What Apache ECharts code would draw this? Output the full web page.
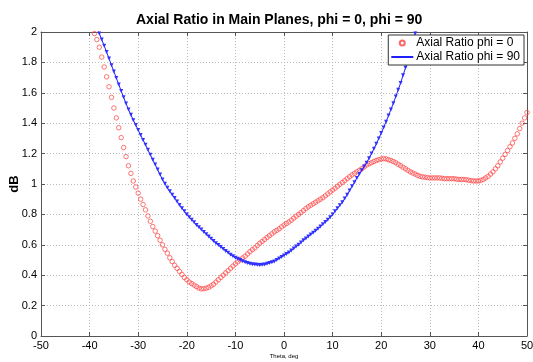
<!DOCTYPE html>
<html>
<head>
<meta charset="utf-8">
<script src="https://cdn.jsdelivr.net/npm/echarts@6/dist/echarts.min.js"></script>
<style>
  html, body { margin: 0; padding: 0; background: #fff; }
  #chart { width: 533px; height: 362px; }
</style>
</head>
<body>
<div id="chart"></div>
<script>
// theta step for both traces (deg)
const thetaStep = 0.5;

// phi = 0, sampled from theta = -39 to 50
const redStart = -39;
const redValues = [
  1.99, 1.95, 1.90, 1.835, 1.77, 1.705, 1.64, 1.57, 1.50, 1.435,
  1.37, 1.305, 1.24, 1.18, 1.12, 1.07, 1.02, 0.98, 0.94, 0.90,
  0.865, 0.83, 0.79, 0.755, 0.72, 0.69, 0.66, 0.63, 0.60, 0.57,
  0.545, 0.515, 0.49, 0.465, 0.445, 0.425, 0.405, 0.385, 0.37, 0.355,
  0.345, 0.335, 0.325, 0.315, 0.31, 0.311, 0.315, 0.32, 0.33, 0.34,
  0.355, 0.37, 0.385, 0.40, 0.415, 0.43, 0.445, 0.46, 0.475, 0.488,
  0.50, 0.513, 0.525, 0.54, 0.555, 0.568, 0.58, 0.595, 0.61, 0.622,
  0.635, 0.648, 0.66, 0.672, 0.685, 0.695, 0.705, 0.718, 0.73, 0.74,
  0.75, 0.762, 0.775, 0.788, 0.80, 0.812, 0.825, 0.838, 0.85, 0.86,
  0.87, 0.88, 0.89, 0.90, 0.91, 0.922, 0.935, 0.948, 0.96, 0.972,
  0.985, 0.998, 1.01, 1.022, 1.035, 1.048, 1.06, 1.07, 1.08, 1.09,
  1.10, 1.112, 1.125, 1.133, 1.14, 1.148, 1.155, 1.16, 1.165, 1.167,
  1.165, 1.16, 1.155, 1.148, 1.14, 1.13, 1.12, 1.11, 1.10, 1.09,
  1.08, 1.072, 1.065, 1.057, 1.05, 1.047, 1.045, 1.042, 1.04, 1.04,
  1.04, 1.04, 1.04, 1.038, 1.035, 1.035, 1.035, 1.035, 1.035, 1.032,
  1.03, 1.03, 1.03, 1.028, 1.025, 1.022, 1.02, 1.02, 1.02, 1.024,
  1.03, 1.04, 1.05, 1.065, 1.08, 1.10, 1.12, 1.145, 1.17, 1.195,
  1.22, 1.245, 1.27, 1.30, 1.33, 1.365, 1.40, 1.435, 1.47
];

// phi = 90, sampled from theta = -38.5 to 28
const blueStart = -38.5;
const blueValues = [
  2.03, 1.99, 1.95, 1.91, 1.868, 1.825, 1.782, 1.74, 1.698, 1.655,
  1.612, 1.57, 1.53, 1.49, 1.455, 1.42, 1.388, 1.355, 1.322, 1.29,
  1.258, 1.225, 1.192, 1.16, 1.128, 1.095, 1.062, 1.03, 1.002, 0.975,
  0.952, 0.93, 0.908, 0.885, 0.862, 0.84, 0.82, 0.80, 0.782, 0.765,
  0.748, 0.73, 0.715, 0.70, 0.685, 0.67, 0.655, 0.64, 0.625, 0.61,
  0.598, 0.585, 0.572, 0.56, 0.548, 0.535, 0.525, 0.515, 0.508, 0.50,
  0.492, 0.485, 0.48, 0.475, 0.472, 0.47, 0.468, 0.467, 0.468, 0.47,
  0.475, 0.48, 0.485, 0.49, 0.50, 0.51, 0.52, 0.53, 0.54, 0.55,
  0.562, 0.575, 0.588, 0.60, 0.615, 0.63, 0.642, 0.655, 0.668, 0.68,
  0.692, 0.705, 0.72, 0.735, 0.75, 0.765, 0.782, 0.80, 0.82, 0.84,
  0.86, 0.88, 0.905, 0.93, 0.958, 0.985, 1.012, 1.04, 1.065, 1.09,
  1.115, 1.14, 1.17, 1.20, 1.232, 1.265, 1.30, 1.335, 1.372, 1.41,
  1.45, 1.49, 1.532, 1.575, 1.62, 1.665, 1.715, 1.765, 1.82, 1.875,
  1.932, 1.99, 2.05, 2.11
];

const seriesNames = ['Axial Ratio phi = 0', 'Axial Ratio phi = 90'];

const toPairs = (start, vals) => vals.map((v, i) => [start + i * thetaStep, v]);

const chart = echarts.init(document.getElementById('chart'));
const font = 'Liberation Sans, Arial, sans-serif';

// top / right axes only close the box
const boxAxis = {
  axisLine: { show: true, onZero: false, lineStyle: { color: '#555', width: 1 } },
  axisTick: { show: true, inside: true, length: 4, lineStyle: { color: '#555' } },
  splitLine: { show: false },
  axisLabel: { show: false }
};

chart.setOption({
  animation: false,
  title: {
    text: 'Axial Ratio in Main Planes, phi = 0, phi = 90',
    left: 131,
    top: 8,
    textStyle: { fontFamily: font, fontSize: 14, fontWeight: 'bold', color: '#000' }
  },
  grid: { left: 41, right: 6, top: 32, bottom: 26, outerBoundsMode: 'none' },
  legend: {
    orient: 'vertical',
    right: 9,
    top: 35,
    padding: [2, 4, 2, 2],
    itemGap: 2,
    itemWidth: 22,
    itemHeight: 5,
    backgroundColor: '#fff',
    borderColor: '#333',
    borderWidth: 1,
    borderRadius: 0,
    textStyle: { fontFamily: font, fontSize: 12, color: '#000', padding: [0, 0, 0, -2] },
    data: [
      { name: seriesNames[0] },
      { name: seriesNames[1], itemStyle: { opacity: 0 } }
    ]
  },
  xAxis: [{
    type: 'value', min: -50, max: 50, interval: 10,
    name: 'Theta, deg', nameLocation: 'middle', nameGap: 17, nameMoveOverlap: false,
    nameTextStyle: { fontFamily: font, fontSize: 6, color: '#000' },
    axisLine: { show: true, onZero: false, lineStyle: { color: '#555' } },
    axisTick: { inside: true, length: 4, lineStyle: { color: '#555' } },
    axisLabel: { fontFamily: font, fontSize: 11, color: '#000', margin: 4 },
    splitLine: { show: true, lineStyle: { color: '#bbb', type: [1, 2], width: 1 } }
  }, Object.assign({ type: 'value', position: 'top', min: -50, max: 50, interval: 10 }, boxAxis)],
  yAxis: [{
    type: 'value', min: 0, max: 2, interval: 0.2,
    name: 'dB', nameLocation: 'middle', nameGap: 20, nameMoveOverlap: false,
    nameTextStyle: { fontFamily: font, fontSize: 13, fontWeight: 'bold', color: '#000' },
    axisLine: { show: true, onZero: false, lineStyle: { color: '#555' } },
    axisTick: { inside: true, length: 4, lineStyle: { color: '#555' } },
    axisLabel: { fontFamily: font, fontSize: 11, color: '#000', margin: 4 },
    splitLine: { show: true, lineStyle: { color: '#bbb', type: [1, 2], width: 1 } }
  }, Object.assign({ type: 'value', position: 'right', min: 0, max: 2, interval: 0.2 }, boxAxis)],
  series: [{
    name: seriesNames[0],
    type: 'scatter',
    symbol: 'circle',
    symbolSize: 4.5,
    itemStyle: { color: 'rgba(255,255,255,0)', borderColor: '#ff4040', borderWidth: 0.9 },
    clip: true,
    data: toPairs(redStart, redValues)
  }, {
    name: seriesNames[1],
    type: 'line',
    symbol: 'triangle',
    symbolRotate: 180,
    symbolSize: 4,
    showAllSymbol: true,
    clip: true,
    lineStyle: { color: '#2020ff', width: 1 },
    itemStyle: { color: '#3030ff' },
    data: toPairs(blueStart, blueValues)
  }]
});
</script>
</body>
</html>
